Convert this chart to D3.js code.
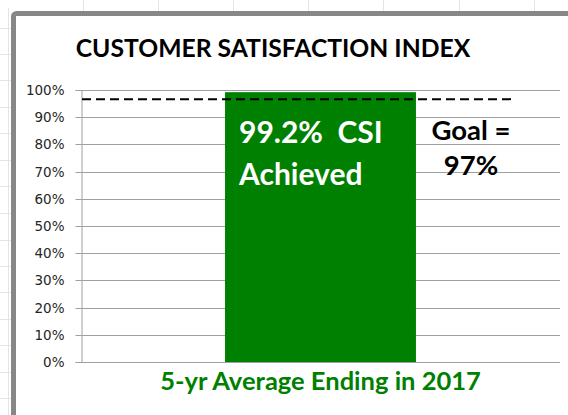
<!DOCTYPE html>
<html>
<head>
<meta charset="utf-8">
<script src="https://cdn.jsdelivr.net/npm/d3@7"></script>
<style>
  html, body { margin: 0; padding: 0; background: #fff; }
  svg { display: block; }
</style>
</head>
<body>
<svg id="chart" width="568" height="415"></svg>
<script>
// ---- Data ----
const categories = ["5-yr Average Ending in 2017"];
const csiValues = [99.2];
const goalValue = 97;
const yTicks = [0, 10, 20, 30, 40, 50, 60, 70, 80, 90, 100];
const titleText = "CUSTOMER SATISFACTION INDEX";
const barLabelLines = ["99.2%  CSI", "Achieved"];
const goalLabelLines = ["Goal =", "97%"];

// ---- Layout ----
const W = 568, H = 415;
const plot = { left: 81, right: 560, top: 90, bottom: 362 };
const svg = d3.select("#chart");

// Spreadsheet cell gridlines behind the chart object
const cellGrid = svg.append("g").attr("stroke", "#e4e4e4").attr("stroke-width", 1);
[83, 158, 233, 308, 383, 459, 534].forEach(x => {
  cellGrid.append("line").attr("x1", x + 0.5).attr("x2", x + 0.5).attr("y1", 0).attr("y2", 11);
});
cellGrid.append("line").attr("x1", 8.5).attr("x2", 8.5).attr("y1", 8).attr("y2", H);
[28, 54, 80, 107, 133, 160, 186, 213, 240, 266, 292, 319, 345, 372, 398].forEach(y => {
  cellGrid.append("line").attr("x1", 0).attr("x2", 11).attr("y1", y + 0.5).attr("y2", y + 0.5);
});

// Chart frame
svg.append("rect")
  .attr("x", 13.5).attr("y", 13.5)
  .attr("width", 600).attr("height", 450)
  .attr("rx", 3)
  .attr("fill", "#fff")
  .attr("stroke", "#878787")
  .attr("stroke-width", 5);

// Scales
const x = d3.scaleBand().domain(categories).range([plot.left, plot.right]).padding(0.43);
const y = d3.scaleLinear().domain([0, 100]).range([plot.bottom, plot.top]);

// Gridlines
svg.append("g")
  .selectAll("line")
  .data(yTicks)
  .join("line")
  .attr("x1", plot.left).attr("x2", plot.right)
  .attr("y1", d => Math.round(y(d)) + 0.5).attr("y2", d => Math.round(y(d)) + 0.5)
  .attr("stroke", "#a0a0a0").attr("stroke-width", 1);

// Y axis
const yAxis = svg.append("g")
  .attr("transform", `translate(${plot.left + 0.5},0)`)
  .call(d3.axisLeft(y).tickValues(yTicks).tickSize(6).tickPadding(11).tickFormat(d => d + "%"));
yAxis.select(".domain").attr("stroke", "#a0a0a0");
yAxis.selectAll(".tick line").attr("stroke", "#a0a0a0");
yAxis.selectAll(".tick").attr("transform", d => `translate(0,${Math.round(y(d)) + 0.5})`);
yAxis.selectAll("text")
  .attr("fill", "#262626")
  .style("font-family", "'DejaVu Sans', Verdana, sans-serif")
  .style("font-size", "13.5px");

// Bars
svg.append("g")
  .selectAll("rect")
  .data(categories.map((c, i) => ({ c, v: csiValues[i] })))
  .join("rect")
  .attr("x", d => x(d.c))
  .attr("y", d => y(d.v))
  .attr("width", x.bandwidth())
  .attr("height", d => y(0) - y(d.v))
  .attr("fill", "#008000");

// Goal dashed line
svg.append("line")
  .attr("x1", plot.left + 1).attr("x2", 516)
  .attr("y1", y(goalValue) + 1).attr("y2", y(goalValue) + 1)
  .attr("stroke", "#000").attr("stroke-width", 2)
  .attr("stroke-dasharray", "9,5");

// X axis (bottom line)
svg.append("line")
  .attr("x1", plot.left).attr("x2", plot.right)
  .attr("y1", plot.bottom + 0.5).attr("y2", plot.bottom + 0.5)
  .attr("stroke", "#a0a0a0");

const boldFont = "Lato, 'Open Sans', sans-serif";

// Title
svg.append("text")
  .attr("x", 273).attr("y", 57)
  .attr("text-anchor", "middle")
  .style("font-family", boldFont).style("font-weight", "bold").style("font-size", "24.7px")
  .attr("fill", "#000")
  .text(titleText);

// Category label
svg.append("text")
  .attr("x", x(categories[0]) + x.bandwidth() / 2).attr("y", 390)
  .attr("text-anchor", "middle")
  .style("font-family", boldFont).style("font-weight", "bold").style("font-size", "25.5px")
  .attr("fill", "#008000")
  .text(categories[0]);

// Bar label
const barX = x(categories[0]) + 14;
svg.append("g").selectAll("text")
  .data(barLabelLines)
  .join("text")
  .attr("x", barX)
  .attr("y", (d, i) => 143 + i * 42)
  .style("font-family", boldFont).style("font-weight", "bold").style("font-size", "30px")
  .style("white-space", "pre")
  .attr("fill", "#fff")
  .text(d => d);

// Goal label
svg.append("g").selectAll("text")
  .data(goalLabelLines)
  .join("text")
  .attr("x", 471)
  .attr("y", (d, i) => 140 + i * 35)
  .attr("text-anchor", "middle")
  .style("font-family", boldFont).style("font-weight", "bold").style("font-size", "27.5px")
  .attr("fill", "#000")
  .text(d => d);
</script>
</body>
</html>
